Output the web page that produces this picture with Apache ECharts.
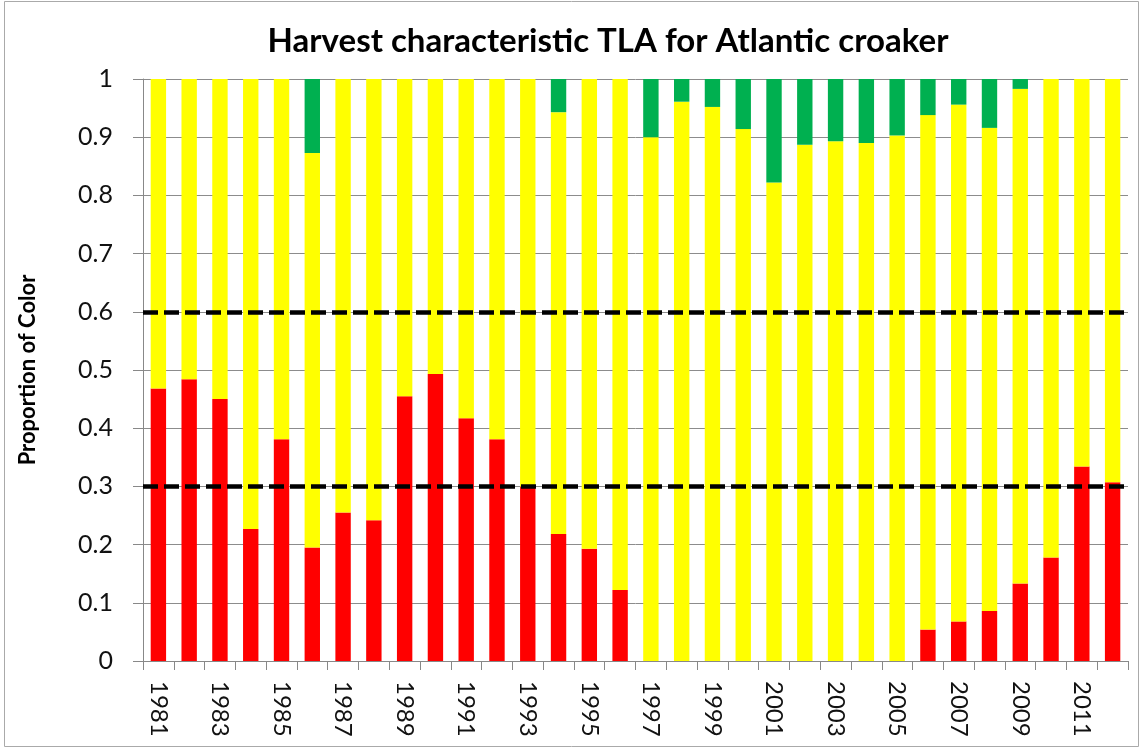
<!DOCTYPE html>
<html>
<head>
<meta charset="utf-8">
<script src="https://cdn.jsdelivr.net/npm/echarts@6/dist/echarts.min.js"></script>
<style>
  html, body { margin: 0; padding: 0; background: #fff; }
  #chart { width: 1142px; height: 751px; }
</style>
</head>
<body>
<div id="chart"></div>
<script>
"use strict";
// years on the x axis
var years = [];
for (var y = 1981; y <= 2012; y++) { years.push(String(y)); }

// proportion red (bottom of each stack)
var redVals = [0.468, 0.484, 0.450, 0.227, 0.381, 0.195, 0.255, 0.242,
  0.455, 0.493, 0.417, 0.381, 0.300, 0.218, 0.193, 0.122,
  0, 0, 0, 0, 0, 0, 0, 0,
  0, 0.054, 0.068, 0.086, 0.133, 0.178, 0.334, 0.307];

// proportion green (top of each stack)
var greenVals = [0, 0, 0, 0, 0, 0.127, 0, 0,
  0, 0, 0, 0, 0, 0.057, 0, 0,
  0.100, 0.039, 0.048, 0.086, 0.178, 0.113, 0.107, 0.110,
  0.097, 0.062, 0.044, 0.084, 0.017, 0, 0, 0];

// yellow fills the rest
var yellowVals = redVals.map(function (r, i) {
  return +(1 - r - greenVals[i]).toFixed(3);
});

var thresholds = [0.3, 0.6];

var chart = echarts.init(document.getElementById('chart'));
var font = 'Lato, "Open Sans", sans-serif';

chart.setOption({
  animation: false,
  title: {
    text: 'Harvest characteristic TLA for Atlantic croaker',
    left: 603,
    top: 20,
    textAlign: 'center',
    textStyle: { fontFamily: font, fontSize: 33, fontWeight: 'bold', color: '#000' }
  },
  graphic: [{
    type: 'rect',
    shape: { x: 4.5, y: 1.5, width: 1134, height: 745 },
    style: { fill: 'none', stroke: '#aaa', lineWidth: 1 },
    silent: true
  }],
  grid: { left: 143, right: 14, top: 79, bottom: 90 },
  xAxis: {
    type: 'category',
    data: years,
    axisLine: { lineStyle: { color: '#888' } },
    axisTick: { show: true, length: 9, interval: 0, lineStyle: { color: '#888' } },
    axisLabel: {
      interval: 1,
      rotate: -90,
      margin: 20,
      fontFamily: font,
      fontSize: 24,
      color: '#111'
    }
  },
  yAxis: {
    type: 'value',
    min: 0,
    max: 1,
    interval: 0.1,
    name: 'Proportion of Color',
    nameLocation: 'middle',
    nameGap: 104,
    nameTextStyle: { fontFamily: font, fontSize: 22, fontWeight: 'bold', color: '#000' },
    axisLine: { show: true, lineStyle: { color: '#888' } },
    axisTick: { show: true, length: 10, lineStyle: { color: '#888' } },
    splitLine: { lineStyle: { color: '#8c8c8c', width: 1 } },
    axisLabel: {
      margin: 30,
      fontFamily: font,
      fontSize: 25,
      color: '#111',
      formatter: function (v) { return String(+v.toFixed(1)); }
    }
  },
  series: [{
    name: 'Red',
    type: 'bar',
    stack: 'tla',
    barWidth: '50%',
    data: redVals,
    itemStyle: { color: '#ff0000' },
    markLine: {
      silent: true,
      symbol: 'none',
      label: { show: false },
      lineStyle: { color: '#000', width: 4.5, type: [15, 6] },
      data: thresholds.map(function (t) { return { yAxis: t }; })
    }
  }, {
    name: 'Yellow',
    type: 'bar',
    stack: 'tla',
    barWidth: '50%',
    data: yellowVals,
    itemStyle: { color: '#ffff00' }
  }, {
    name: 'Green',
    type: 'bar',
    stack: 'tla',
    barWidth: '50%',
    data: greenVals,
    itemStyle: { color: '#00b050' }
  }]
});
</script>
</body>
</html>
